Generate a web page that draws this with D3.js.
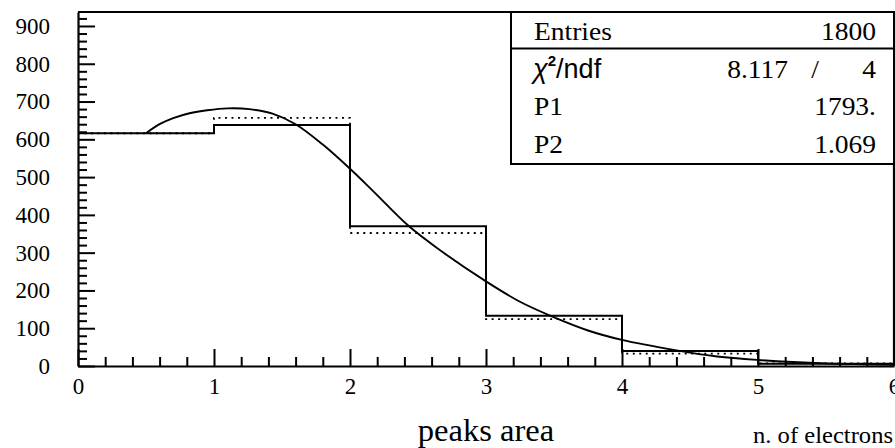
<!DOCTYPE html>
<html><head><meta charset="utf-8">
<script src="https://cdn.jsdelivr.net/npm/d3@7"></script>
<style>body{margin:0;background:#fff}svg{display:block}</style>
</head><body><svg id="c" width="895" height="448"></svg>
<script>
// ---- data ----
const binLow = [0, 1, 2, 3, 4, 5];
const dataCounts = [616, 638, 370, 133, 40, 6];
const expectedCounts = [616, 657, 352, 124, 33, 7];
const fitX = [0.5, 0.6, 0.7, 0.82, 0.95, 1.1, 1.26, 1.43, 1.6, 1.8, 2.0, 2.17, 2.43, 2.66, 3.0, 3.25, 3.48, 3.75, 4.0, 4.39, 4.7, 5.0, 5.5, 6.0];
const fitY = [616, 640, 656, 669, 677, 682, 680, 668, 640, 586, 522, 463, 371, 307, 224, 170, 132, 94, 69, 42, 25, 16, 7, 3];
const xTicks = [0, 1, 2, 3, 4, 5, 6];
const yTicks = [0, 100, 200, 300, 400, 500, 600, 700, 800, 900];
const statLabels = ["Entries", "P1", "P2"];
const statValues = ["1800", "1793.", "1.069"];
const chi2 = "8.117", ndf = "4";
const xTitle = "peaks area", unitLabel = "n. of electrons";

const serif = "'Liberation Serif','Times New Roman',serif";
const sans = "'Liberation Sans','DejaVu Sans',Arial,sans-serif";

const svg = d3.select("#c");
svg.append("rect").attr("width", 895).attr("height", 448).attr("fill", "#fff");

const x = d3.scaleLinear().domain([0, 6]).range([78, 894]);
const y = d3.scaleLinear().domain([0, 937]).range([366, 12]);

// minor ticks
const yMinor = d3.range(0, 937, 20).filter(v => v % 100 !== 0);
const xMinor = d3.range(0, 6.001, 0.2).filter(v => Math.abs(v - Math.round(v)) > 1e-6);

svg.append("g").attr("transform", "translate(78,0)")
  .call(d3.axisLeft(y).tickValues(yMinor).tickSizeInner(-9).tickSizeOuter(0).tickFormat(""))
  .call(g => g.select(".domain").remove())
  .selectAll("line").attr("stroke", "#000").attr("stroke-width", 2);

svg.append("g").attr("transform", "translate(0,366)")
  .call(d3.axisBottom(x).tickValues(xMinor).tickSizeInner(-9).tickSizeOuter(0).tickFormat(""))
  .call(g => g.select(".domain").remove())
  .selectAll("line").attr("stroke", "#000").attr("stroke-width", 2);

// major axes
const gy = svg.append("g").attr("transform", "translate(78,0)")
  .call(d3.axisLeft(y).tickValues(yTicks).tickSizeInner(-17).tickSizeOuter(0).tickPadding(28).tickFormat(d3.format("d")));
const gx = svg.append("g").attr("transform", "translate(0,366)")
  .call(d3.axisBottom(x).tickValues(xTicks).tickSizeInner(-17).tickSizeOuter(0).tickPadding(12).tickFormat(d3.format("d")));
[gy, gx].forEach(g => {
  g.attr("font-family", serif).attr("font-size", 23);
  g.selectAll("text").attr("fill", "#000");
  g.selectAll("line").attr("stroke", "#000").attr("stroke-width", 2);
  g.select(".domain").attr("stroke", "#000").attr("stroke-width", 2.2);
});

// histograms
const stepData = (vals) => {
  const pts = binLow.map((b, i) => [b, vals[i]]);
  pts.push([binLow[binLow.length - 1] + 1, vals[vals.length - 1]]);
  return pts;
};
const stepLine = d3.line().x(d => x(d[0])).y(d => y(d[1])).curve(d3.curveStepAfter);

svg.append("path").attr("d", stepLine(stepData(expectedCounts)))
  .attr("fill", "none").attr("stroke", "#000").attr("stroke-width", 1.8)
  .attr("stroke-dasharray", "2,4.5");

svg.append("path").attr("d", stepLine(stepData(dataCounts)))
  .attr("fill", "none").attr("stroke", "#000").attr("stroke-width", 2);

// fit curve
const fitLine = d3.line().x((d, i) => x(fitX[i])).y(d => y(d)).curve(d3.curveCatmullRom.alpha(0.5));
svg.append("path").attr("d", fitLine(fitY))
  .attr("fill", "none").attr("stroke", "#000").attr("stroke-width", 1.9);

// frame (top and right)
svg.append("path").attr("d", `M${x(0)},${y(937)}H${x(6)}V${y(0)}`)
  .attr("fill", "none").attr("stroke", "#000").attr("stroke-width", 2.2);

// stats box
const bx = 511, by = 12, bw = x(6) - 511, bh = 152;
const box = svg.append("g");
box.append("rect").attr("x", bx).attr("y", by).attr("width", bw).attr("height", bh)
  .attr("fill", "#fff").attr("stroke", "#000").attr("stroke-width", 2);
box.append("line").attr("x1", bx).attr("x2", bx + bw).attr("y1", 48.5).attr("y2", 48.5)
  .attr("stroke", "#000").attr("stroke-width", 2);

function stext(g, str, xx, yy, anchor, size, family, sx) {
  return g.append("text").attr("transform", `translate(${xx},${yy}) scale(${sx},1)`)
    .attr("text-anchor", anchor).attr("font-size", size).attr("font-family", family)
    .attr("fill", "#000").text(str);
}
const rowY = [40, 115, 153];
statLabels.forEach((s, i) => {
  stext(box, s, 534, rowY[i], "start", 25, serif, 1.1);
  stext(box, statValues[i], 876, rowY[i], "end", 25, serif, 1.1);
});
// chi2 row
const chiT = box.append("text").attr("transform", "translate(533,77.5)")
  .attr("font-family", sans).attr("font-size", 27).attr("fill", "#000");
chiT.append("tspan").attr("font-style", "italic").text("χ");
chiT.append("tspan").attr("font-size", 15).attr("font-weight", "bold").attr("dy", -12).text("2");
chiT.append("tspan").attr("dy", 12).text("/ndf");
stext(box, chi2, 788, 77.5, "end", 25, serif, 1.1);
stext(box, "/", 815, 77.5, "middle", 25, serif, 1.1);
stext(box, ndf, 876, 77.5, "end", 25, serif, 1.1);

// titles
stext(svg, xTitle, 486, 441, "middle", 31, serif, 1.05);
stext(svg, unitLabel, 893, 443, "end", 23, serif, 1.07);
</script>
</body></html>
